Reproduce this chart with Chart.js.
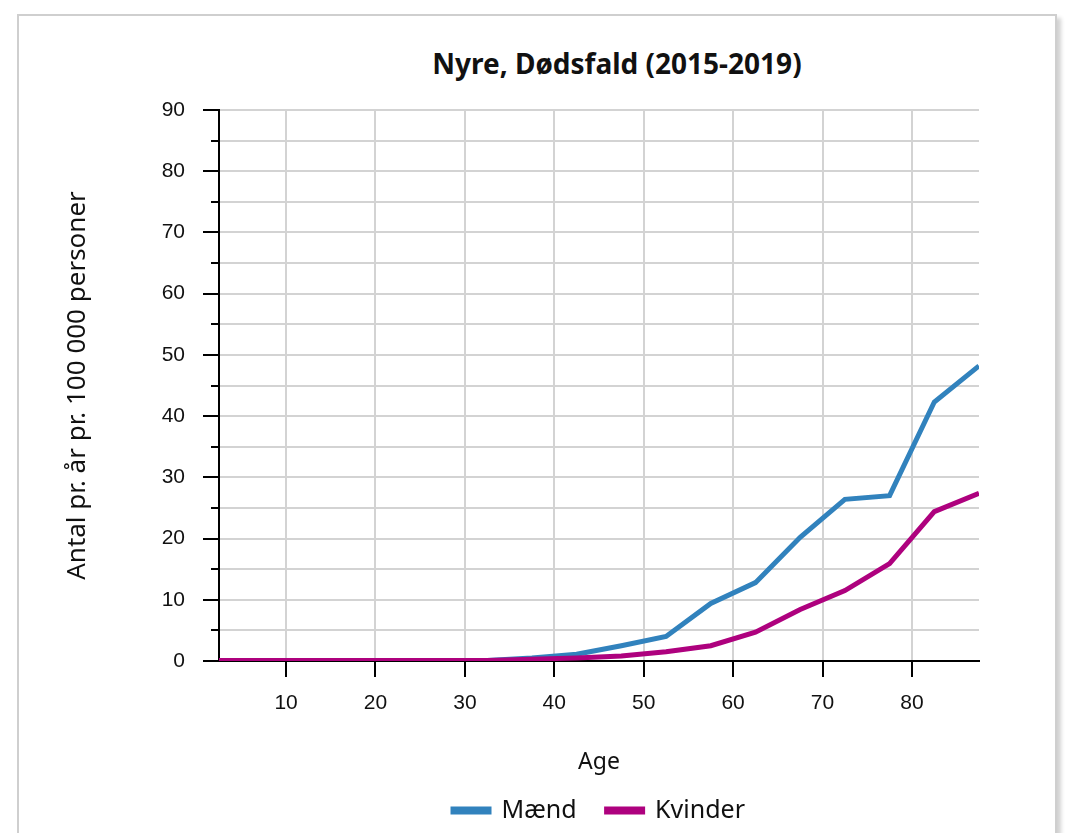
<!DOCTYPE html>
<html>
<head>
<meta charset="utf-8">
<script src="https://cdn.jsdelivr.net/npm/chart.js@4.4.1/dist/chart.umd.min.js"></script>
<style>
html,body{margin:0;padding:0;background:#fff;}
body{width:1077px;height:833px;position:relative;overflow:hidden;}
#card{position:absolute;left:17px;top:14px;width:1036px;height:900px;border:2px solid #cfcfcf;box-shadow:4px 4px 4px rgba(0,0,0,0.18);background:#fff;}
#title{position:absolute;left:317px;width:600px;top:43px;text-align:center;font-family:"Noto Sans",sans-serif;font-weight:bold;font-size:28px;color:#111;line-height:40px;}
#wrap{position:absolute;left:0;top:0;width:1077px;height:833px;}
</style>
</head>
<body>
<div id="card"></div>
<div id="title">Nyre, Dødsfald (2015-2019)</div>
<div id="wrap"><canvas id="chart"></canvas></div>
<script>

/* DONNEES */

const ages = [2.5,7.5,12.5,17.5,22.5,27.5,32.5,37.5,42.5,47.5,52.5,57.5,62.5,67.5,72.5,77.5,82.5,87.5];
const maend = [0.1,0.1,0.1,0.1,0.1,0.1,0.1,0.5,1.1,2.5,4.0,9.4,12.8,20.2,26.4,27.0,42.3,48.2];
const kvinder = [0.1,0.1,0.1,0.1,0.1,0.1,0.1,0.3,0.5,0.8,1.5,2.5,4.7,8.4,11.5,15.9,24.4,27.4];
const xTicks = [10,20,30,40,50,60,70,80];
const seriesNames = ["Mænd","Kvinder"];
const yTitle = "Antal pr. år pr. 100 000 personer";
const xTitle = "Age";

const COLORS = ["#3182bd","#ae017e"];

/* TICKS (majeurs / mineurs) */

const tickMarks = {
id:'tickMarks',
afterDraw(chart){
let ctx = chart.ctx;
let y = chart.scales.y;
let x = chart.scales.x;
ctx.save();
ctx.strokeStyle = "#000";
ctx.lineWidth = 2;
for(let v=0; v<=90; v+=5){
let py = Math.round(y.getPixelForValue(v));
let len = (v%10===0) ? 16 : 8;
ctx.beginPath();
ctx.moveTo(y.right-len, py);
ctx.lineTo(y.right, py);
ctx.stroke();
}
xTicks.forEach(v=>{
let px = Math.round(x.getPixelForValue(v));
ctx.beginPath();
ctx.moveTo(px, x.top);
ctx.lineTo(px, x.top+16);
ctx.stroke();
});
ctx.restore();
}
};

function toPoints(vals){
return ages.map((a,i)=>({x:a, y:vals[i]}));
}

/* GRAPH */

new Chart(document.getElementById("chart"),{

type:'line',

data:{
datasets:[
{
label:seriesNames[0],
data:toPoints(maend),
borderColor:COLORS[0],
backgroundColor:COLORS[0],
borderWidth:5,
pointRadius:0,
order:1
},
{
label:seriesNames[1],
data:toPoints(kvinder),
borderColor:COLORS[1],
backgroundColor:COLORS[1],
borderWidth:5,
pointRadius:0,
order:0
}
]
},

options:{
responsive:true,
maintainAspectRatio:false,
animation:false,
layout:{padding:{left:40,right:98,top:110,bottom:0}},

plugins:{
title:{display:false},
tooltip:{enabled:false},
legend:{
position:'bottom',
fullSize:false,
labels:{
boxWidth:36,
boxHeight:3,
padding:30,
color:"#111",
font:{family:"Noto Sans",size:25},
sort:(a,b)=>a.datasetIndex-b.datasetIndex
}
}
},

scales:{
x:{
type:'linear',
min:2.5,
max:87.5,
afterBuildTicks:(s)=>{ s.ticks = xTicks.map(v=>({value:v})); },
afterFit:(s)=>{ s.height = 107; },
grid:{color:"#d3d3d3",lineWidth:2,drawTicks:false},
border:{color:"#000",width:2},
ticks:{padding:30,color:"#111",font:{family:"Liberation Sans",size:21},maxRotation:0},
title:{display:true,text:xTitle,color:"#111",font:{family:"Noto Sans",size:23},padding:{top:0,bottom:-8}}
},
y:{
min:0,
max:90,
afterFit:(s)=>{ s.width = 179; },
grid:{color:"#d3d3d3",lineWidth:2,drawTicks:false},
border:{color:"#000",width:2},
ticks:{
stepSize:5,
padding:34,
color:"#111",
font:{family:"Liberation Sans",size:21},
callback:(v)=> (v%10===0) ? v : ''
},
title:{display:true,text:yTitle,color:"#111",font:{family:"Noto Sans",size:26},padding:{top:22,bottom:0}}
}
}

},

plugins:[tickMarks]

});

</script>
</body>
</html>
